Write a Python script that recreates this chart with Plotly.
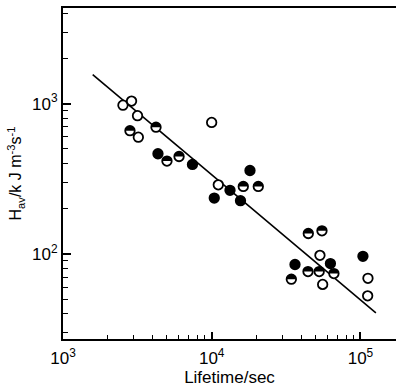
import numpy as np
import plotly.graph_objects as go

# ---- data ----
open_x = [2530, 2890, 3170, 3210, 9990, 11070, 53400, 55700, 112300, 111800]
open_y = [977, 1040, 832, 598, 750, 288, 97.7, 62.6, 68.7, 52.5]

filled_x = [4350, 7420, 10400, 13270, 15610, 18080, 36300, 62800, 103900]
filled_y = [464, 394, 235, 265, 226, 359, 84.9, 86.2, 96.2]

half_x = [2820, 4220, 5000, 6030, 16300, 20560, 44600, 55100, 44400, 52800, 66300, 34300]
half_y = [661, 697, 415, 445, 281, 281, 136.6, 142.3, 76.2, 76.2, 73.9, 67.8]

fit_x = [1584, 127000]
fit_y = [1561, 40.4]

x_major = [1e3, 1e4, 1e5]
x_major_text = ["10<sup>3</sup>", "10<sup>4</sup>", "10<sup>5</sup>"]
y_major = [1e2, 1e3]
y_major_text = ["10<sup>2</sup>", "10<sup>3</sup>"]

x_minor = [m * d for d in (1e3, 1e4, 1e5) for m in range(2, 10)]
y_minor = [m * d for d in (10, 100, 1000) for m in range(2, 10)]

FONT = "Liberation Sans"
MS = 9.5

fig = go.Figure()
fig.add_trace(go.Scatter(x=fit_x, y=fit_y, mode="lines",
                         line=dict(color="black", width=1.6), showlegend=False))
fig.add_trace(go.Scatter(x=open_x, y=open_y, mode="markers", showlegend=False,
                         marker=dict(symbol="circle", size=MS, color="white",
                                     line=dict(color="black", width=1.8))))
fig.add_trace(go.Scatter(x=filled_x, y=filled_y, mode="markers", showlegend=False,
                         marker=dict(symbol="circle", size=MS, color="black",
                                     line=dict(color="black", width=1.8))))
fig.add_trace(go.Scatter(x=half_x, y=half_y, mode="markers", showlegend=False,
                         marker=dict(symbol="circle", size=MS, color="white",
                                     line=dict(color="black", width=1.8))))

# upper-half fill for the half-filled markers (pixel-sized path anchored at data points)
r = MS / 2
theta = np.linspace(0, np.pi, 17)
half_path = "M " + " L ".join(f"{r*np.cos(t):.2f},{r*np.sin(t):.2f}" for t in theta) + " Z"
shapes = []
for hx, hy in zip(half_x, half_y):
    shapes.append(dict(type="path", xref="x", yref="y", xsizemode="pixel", ysizemode="pixel",
                       xanchor=hx, yanchor=hy, path=half_path,
                       fillcolor="black", line=dict(width=0), layer="above"))

fig.update_layout(
    width=401, height=388,
    margin=dict(l=63, r=5, t=8, b=49, autoexpand=False),
    paper_bgcolor="white", plot_bgcolor="white",
    shapes=shapes,
    font=dict(family=FONT, color="black", size=16),
    xaxis=dict(type="log", range=[3.0, 5.239], showgrid=False, zeroline=False,
               automargin=False,
               showline=True, linecolor="black", linewidth=2, mirror=True,
               tickmode="array", tickvals=x_major, ticktext=x_major_text,
               ticks="inside", ticklen=7, tickwidth=1.5, tickcolor="black",
               tickfont=dict(size=17, family=FONT), ticklabelstandoff=3,
               minor=dict(tickmode="array", tickvals=x_minor, ticks="inside",
                          ticklen=4, tickwidth=1.2, tickcolor="black", showgrid=False),
               title=dict(text="Lifetime/sec", font=dict(size=17, family=FONT), standoff=3)),
    yaxis=dict(type="log", range=[1.433, 3.637], showgrid=False, zeroline=False,
               automargin=False,
               showline=True, linecolor="black", linewidth=2, mirror=False,
               tickmode="array", tickvals=y_major, ticktext=y_major_text,
               ticks="inside", ticklen=8, tickwidth=1.5, tickcolor="black",
               tickfont=dict(size=17, family=FONT),
               minor=dict(tickmode="array", tickvals=y_minor, ticks="inside",
                          ticklen=5, tickwidth=1.2, tickcolor="black", showgrid=False),
               title=dict(text="H<sub>av</sub>/k J m<sup>-3</sup>s<sup>-1</sup>",
                          font=dict(size=16, family=FONT), standoff=6)),
)

fig.write_html("out.html",
               config={"displayModeBar": False},
               post_script="document.body.style.margin='0';document.body.style.padding='0';")
